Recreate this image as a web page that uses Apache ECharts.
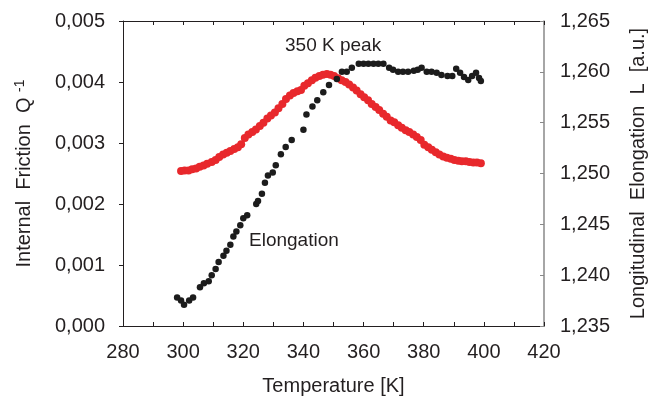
<!DOCTYPE html>
<html><head><meta charset="utf-8">
<script src="https://cdn.jsdelivr.net/npm/echarts@6/dist/echarts.min.js"></script>
<style>html,body{margin:0;padding:0;background:#fff}#c{width:656px;height:401px}</style>
</head><body><div id="c"></div>
<script>
// Internal friction Q^-1 (red), temperature in K
var frictionT = [299.3,300.5,301.8,303.0,304.3,305.5,306.8,308.0,309.5,310.8,312.0,313.3,314.5,315.7,317.0,318.2,319.3,320.5,321.7,323.0,324.2,325.5,326.7,328.0,329.2,330.5,331.7,333.0,334.2,335.5,336.7,338.0,339.2,340.3,341.5,342.8,344.0,345.3,346.5,347.8,349.0,350.2,351.5,352.7,354.0,355.2,356.5,357.7,359.0,360.2,361.5,362.7,364.0,365.2,366.5,367.7,369.0,370.2,371.5,372.7,374.0,375.2,376.5,377.7,379.0,380.2,381.5,382.7,384.0,385.2,386.5,387.7,389.0,390.2,391.5,392.7,394.0,395.2,396.5,397.7,399.0];
var frictionQ = [0.00254,0.00255,0.00255,0.00257,0.00258,0.00261,0.00263,0.00266,0.00269,0.00272,0.00277,0.00281,0.00284,0.00287,0.00290,0.00293,0.00298,0.00308,0.00314,0.00318,0.00322,0.00328,0.00333,0.00340,0.00345,0.00350,0.00357,0.00364,0.00372,0.00378,0.00382,0.00385,0.00387,0.00394,0.00398,0.00403,0.00407,0.00410,0.00412,0.00413,0.00412,0.00410,0.00406,0.00403,0.00400,0.00396,0.00391,0.00386,0.00380,0.00375,0.00370,0.00364,0.00359,0.00354,0.00348,0.00343,0.00337,0.00334,0.00329,0.00325,0.00321,0.00318,0.00314,0.00310,0.00305,0.00297,0.00293,0.00289,0.00285,0.00281,0.00278,0.00276,0.00274,0.00272,0.00271,0.00270,0.00270,0.00269,0.00268,0.00268,0.00267];
// Longitudinal elongation L (black)
var elongT = [298.0,299.3,300.3,302.0,303.3,305.6,306.9,308.5,309.5,310.8,311.8,313.4,314.4,315.7,316.7,317.7,319.0,320.0,321.3,324.3,324.9,326.2,327.2,328.2,329.8,330.8,332.5,334.1,336.1,340.0,341.0,343.0,344.6,346.6,348.5,351.1,352.8,354.4,356.1,358.4,360.0,361.6,363.3,364.9,366.6,368.5,369.8,371.5,373.1,374.8,376.7,378.0,379.3,381.0,382.6,384.3,385.9,387.9,389.5,390.8,392.1,393.4,394.8,396.1,397.4,398.4,399.0];
var elongL = [1.2378,1.2375,1.2371,1.2375,1.2378,1.2388,1.2392,1.2394,1.2400,1.2406,1.2413,1.2419,1.2424,1.2430,1.2438,1.2443,1.2449,1.2456,1.2459,1.2470,1.2473,1.2480,1.2491,1.2498,1.2501,1.2508,1.2519,1.2526,1.2533,1.2543,1.2558,1.2566,1.2572,1.2580,1.2587,1.2593,1.2600,1.2600,1.2604,1.2608,1.2608,1.2608,1.2608,1.2608,1.2608,1.2604,1.2602,1.2600,1.2600,1.2600,1.2601,1.2602,1.2604,1.2600,1.2600,1.2599,1.2597,1.2596,1.2596,1.2603,1.2599,1.2595,1.2592,1.2596,1.2599,1.2594,1.2591];

var xTicks = [280,300,320,340,360,380,400,420];
var leftTicks = [0.000,0.001,0.002,0.003,0.004,0.005];
var rightTicks = [1.235,1.240,1.245,1.250,1.255,1.260,1.265];

function zip(a,b){return a.map(function(v,i){return [v,b[i]];});}
var FONT = 'Liberation Sans, Arial, sans-serif';
var TXT = '#231f20';

var chart = echarts.init(document.getElementById('c'));
chart.setOption({
  animation:false,
  backgroundColor:'#fff',
  grid:{left:123,right:106,top:21,bottom:73},
  xAxis:[{
    type:'value',position:'bottom',min:xTicks[0],max:xTicks[xTicks.length-1],interval:20,
    name:'Temperature [K]',nameLocation:'middle',nameGap:50,
    nameTextStyle:{fontFamily:FONT,fontSize:20,color:TXT},
    axisLine:{lineStyle:{color:'#231f20',width:1}},
    axisTick:{inside:true,length:4,lineStyle:{color:'#231f20'}},
    minorTick:{show:true,splitNumber:2,length:4,lineStyle:{color:'#231f20'}},
    axisLabel:{fontFamily:FONT,fontSize:20,color:TXT,margin:16},
    splitLine:{show:false}
  },{
    type:'value',position:'top',min:280,max:420,interval:20,
    axisLine:{show:true,onZero:false,lineStyle:{color:'#231f20',width:1}},
    axisTick:{inside:true,length:4,lineStyle:{color:'#231f20'}},
    minorTick:{show:true,splitNumber:2,length:4,lineStyle:{color:'#231f20'}},
    axisLabel:{show:false},splitLine:{show:false}
  }],
  yAxis:[{
    type:'value',position:'left',min:leftTicks[0],max:leftTicks[leftTicks.length-1],interval:0.001,
    name:'Internal  Friction  Q {sup|-1}',nameLocation:'middle',nameGap:88,nameRotate:90,
    nameTextStyle:{fontFamily:FONT,fontSize:20,color:TXT,
      rich:{sup:{fontFamily:FONT,fontSize:14,color:TXT,verticalAlign:'top',padding:[0,0,8,0]}}},
    axisLine:{show:true,lineStyle:{color:'#231f20',width:1}},
    axisTick:{inside:false,length:4,lineStyle:{color:'#231f20'}},
    axisLabel:{fontFamily:FONT,fontSize:20,color:TXT,margin:18,
      formatter:function(v){return v.toFixed(3).replace('.',',');}},
    splitLine:{show:false}
  },{
    type:'value',position:'right',min:rightTicks[0],max:rightTicks[rightTicks.length-1],interval:0.005,
    name:'Longitudinal  Elongation  L  [a.u.]',nameLocation:'middle',nameGap:84,nameRotate:90,
    nameTextStyle:{fontFamily:FONT,fontSize:20,color:TXT},
    axisLine:{show:true,lineStyle:{color:'#888',width:1.5}},
    axisTick:{inside:true,length:4,lineStyle:{color:'#888'}},
    axisLabel:{fontFamily:FONT,fontSize:20,color:TXT,margin:16,
      formatter:function(v){return v.toFixed(3).replace('.',',');}},
    splitLine:{show:false}
  }],
  series:[{
    type:'scatter',xAxisIndex:0,yAxisIndex:0,data:zip(frictionT,frictionQ),
    symbol:'circle',symbolSize:8,itemStyle:{color:'#e8282c',opacity:1},z:2
  },{
    type:'scatter',xAxisIndex:0,yAxisIndex:1,data:zip(elongT,elongL),
    symbol:'circle',symbolSize:6.5,itemStyle:{color:'#1c1c1c',opacity:1},z:3
  }],
  graphic:[
    {type:'text',left:285,top:36,style:{text:'350 K peak',fontFamily:FONT,fontSize:19,fill:TXT}},
    {type:'text',left:249,top:231,style:{text:'Elongation',fontFamily:FONT,fontSize:19,fill:TXT}}
  ]
});
</script></body></html>
